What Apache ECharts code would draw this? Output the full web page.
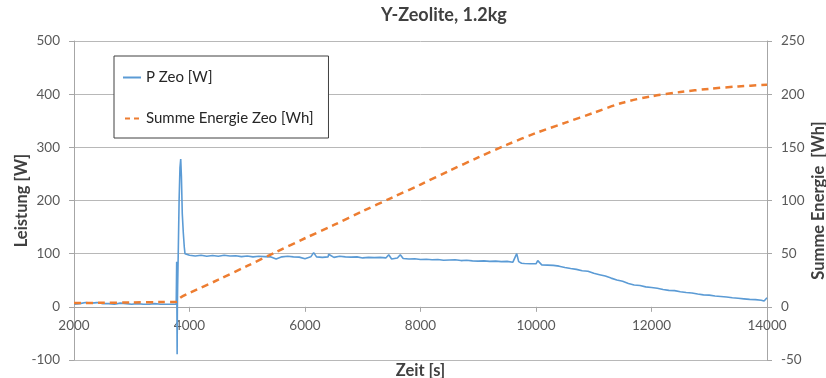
<!DOCTYPE html>
<html>
<head>
<meta charset="utf-8">
<title>Y-Zeolite, 1.2kg</title>
<script src="https://cdn.jsdelivr.net/npm/echarts@6/dist/echarts.min.js"></script>
<style>
  html, body { margin: 0; padding: 0; background: #fff; }
  #chart { width: 826px; height: 378px; }
</style>
</head>
<body>
<div id="chart"></div>
<script>
// P Zeo [W] ueber Zeit [s]
const pTime = [
  2000, 2100, 2200, 2300, 2400, 2500, 2600, 2700, 2800, 2900,
  3000, 3100, 3200, 3300, 3400, 3500, 3600, 3700, 3770,
  3778, 3782, 3786, 3790, 3795, 3805, 3820, 3835, 3848, 3860,
  3875, 3893, 3910, 3922, 3950,
  4000, 4100, 4200, 4300, 4400, 4500, 4600, 4700, 4800, 4900,
  5000, 5100, 5200, 5300, 5400, 5500, 5600, 5700, 5800, 5900,
  6000, 6100, 6150, 6200, 6300, 6400, 6410, 6500, 6600, 6700,
  6800, 6900, 7000, 7100, 7200, 7300, 7400, 7450, 7500, 7600,
  7650, 7700, 7800, 7900, 8000, 8100, 8200, 8300, 8400, 8500,
  8600, 8700, 8800, 8900, 9000, 9100, 9200, 9300, 9400, 9500,
  9600, 9666, 9700, 9750, 9800, 9900, 10000, 10030, 10100, 10200,
  10300, 10400, 10500, 10600, 10700, 10800, 10900, 11000, 11100, 11200,
  11300, 11400, 11500, 11600, 11700, 11800, 11900, 12000, 12100, 12200,
  12300, 12400, 12500, 12600, 12700, 12800, 12900, 13000, 13100, 13200,
  13300, 13400, 13500, 13600, 13700, 13800, 13900, 13950, 14000
]
const pZeo = [
  5, 6, 8, 7, 8, 6, 6, 5, 7, 6,
  5, 6, 5, 5, 6, 5, 5, 5, 5,
  85, 0, -89, 0, 40, 100, 200, 262, 278, 245,
  175, 139, 112, 100, 98,
  97, 95.5, 97, 95, 96.5, 95, 97, 95.5, 96, 94.5,
  95.5, 94, 95, 94.5, 94, 90, 94, 95, 94, 93.5,
  90.5, 94, 102, 94, 93, 94, 99, 93, 95, 94,
  93.5, 94, 92, 93, 92.5, 93, 92, 98, 90, 92,
  98, 91, 90, 90.5, 89, 89.5, 88.5, 89, 87.5, 88,
  88.5, 87, 87.5, 86.5, 86, 86.5, 85.5, 86, 85, 85.5,
  84, 100, 85, 82, 81.5, 81, 81, 87, 79, 78.5,
  78, 76.5, 74, 72, 70.5, 68, 67, 63, 60.5, 58,
  54, 50.5, 48, 44, 41, 40, 37.5, 36.5, 35, 32.5,
  31, 30.5, 28.5, 27, 26, 24, 22.5, 22, 20.5, 19.5,
  18.5, 17, 16, 15, 14, 13.5, 12.5, 11, 17
]

// Summe Energie Zeo [Wh]
const eTime = [
  2000, 2500, 3000, 3500, 3780, 3840, 4000, 4500, 5000, 5500,
  6000, 6500, 7000, 7500, 8000, 8500, 9000, 9500, 10000, 10500,
  11000, 11500, 12000, 12500, 13000, 13500, 14000
]
const eZeo = [
  3.5, 3.8, 4.1, 4.5, 4.8, 8.5, 13, 25.5, 38.5, 51.5,
  64.5, 77, 90, 102.5, 115, 128, 140.5, 152.5, 163.5, 173,
  182.5, 192, 198, 202, 205, 207.3, 208.8
]

const font = 'Lato, "Open Sans", sans-serif'
const gray = '#595959'
const lineGray = '#a6a6a6'

// plot area: top 41, bottom 360 -> zero line of the left axis sits 1/6 above the bottom
const gridTop = 41
const gridBottom = 18
const plotH = 378 - gridTop - gridBottom

const axisLabel = { color: gray, fontFamily: font, fontSize: 13.5, formatter: v => String(v) }
const nameStyle = { color: '#404040', fontFamily: font, fontSize: 16.5, fontWeight: 'bold' }

const option = {
  animation: false,
  backgroundColor: '#fff',
  title: {
    text: 'Y-Zeolite, 1.2kg',
    left: 376,
    top: 1,
    textStyle: { color: '#404040', fontFamily: font, fontSize: 18, fontWeight: 'bold' }
  },
  legend: {
    orient: 'vertical',
    left: 114,
    top: 56,
    padding: [14, 15, 12, 9],
    itemGap: 26,
    itemWidth: 18,
    itemHeight: 2,
    borderColor: '#404040',
    borderWidth: 1,
    backgroundColor: '#fff',
    textStyle: { color: '#262626', fontFamily: font, fontSize: 15 },
    data: [
      { name: 'P Zeo [W]', icon: 'path://M0,0H18V2H0Z' },
      { name: 'Summe Energie Zeo [Wh]', icon: 'path://M0,0H5V2H0ZM9,0H14V2H9Z' }
    ]
  },
  grid: { left: 74, right: 59, top: gridTop, bottom: gridBottom, outerBoundsMode: 'none' },
  xAxis: {
    type: 'value',
    min: 2000,
    max: 14000,
    interval: 2000,
    // axis crosses the left axis at 0 (range -100..500)
    offset: -plotH / 6,
    name: 'Zeit [s]',
    nameLocation: 'middle',
    nameGap: 55,
    nameMoveOverlap: false,
    nameTextStyle: nameStyle,
    axisLine: { onZero: false, lineStyle: { color: lineGray } },
    axisTick: { show: true, length: 5, lineStyle: { color: lineGray } },
    axisLabel: Object.assign({ margin: 12 }, axisLabel),
    splitLine: { show: false }
  },
  yAxis: [
    {
      type: 'value',
      min: -100,
      max: 500,
      interval: 100,
      name: 'Leistung [W]',
      nameLocation: 'middle',
      nameRotate: 90,
      nameGap: 44,
      nameMoveOverlap: false,
      nameTextStyle: nameStyle,
      axisLine: { show: true, onZero: false, lineStyle: { color: lineGray } },
      axisTick: { show: true, length: 5, lineStyle: { color: lineGray } },
      axisLabel: Object.assign({ margin: 14 }, axisLabel),
      splitLine: { lineStyle: { color: '#b8b8b8' } }
    },
    {
      type: 'value',
      min: -50,
      max: 250,
      interval: 50,
      name: 'Summe Energie  [Wh]',
      nameLocation: 'middle',
      nameRotate: 90,
      nameGap: 43,
      nameMoveOverlap: false,
      nameTextStyle: nameStyle,
      axisLine: { show: true, onZero: false, lineStyle: { color: lineGray } },
      axisTick: { show: true, length: 5, lineStyle: { color: lineGray } },
      axisLabel: Object.assign({ margin: 14 }, axisLabel),
      splitLine: { show: false }
    }
  ],
  series: [
    {
      name: 'P Zeo [W]',
      type: 'line',
      yAxisIndex: 0,
      symbol: 'none',
      color: '#5b9bd5',
      lineStyle: { width: 1.6, color: '#5b9bd5' },
      data: pTime.map((t, i) => [t, pZeo[i]])
    },
    {
      name: 'Summe Energie Zeo [Wh]',
      type: 'line',
      yAxisIndex: 1,
      symbol: 'none',
      smooth: 0.3,
      color: '#ed7d31',
      lineStyle: { width: 2.5, color: '#ed7d31', type: [7, 5] },
      data: eTime.map((t, i) => [t, eZeo[i]])
    }
  ]
}

const myChart = echarts.init(document.getElementById('chart'))
myChart.setOption(option)
</script>
</body>
</html>
